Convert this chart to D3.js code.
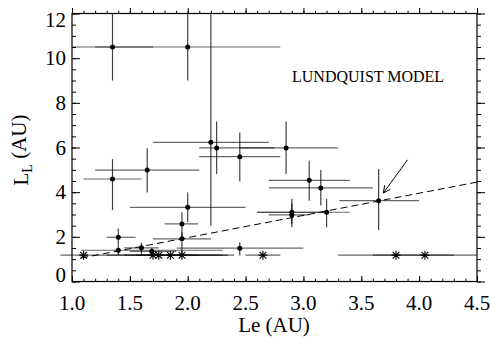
<!DOCTYPE html>
<html>
<head>
<meta charset="utf-8">
<script src="https://cdn.jsdelivr.net/npm/d3@7"></script>
<style>
  body { margin: 0; background: #fff; }
  svg text { font-family: "Liberation Serif", "Times New Roman", serif; fill: #000; }
</style>
</head>
<body>
<script>
// measured points: Le with error range, L_L with error range
var leVal  = [1.35, 2.0, 2.2, 2.25, 2.45, 2.85, 1.35, 1.65, 3.05, 3.15, 2.0, 1.95, 1.4, 1.95, 1.4, 1.6, 1.69, 2.45, 2.9, 2.9, 3.2, 3.65];
var leLo   = [1.0, 1.2, 1.7, 2.1, 2.1, 2.45, 1.1, 1.2, 2.7, 2.7, 1.5, 1.8, 1.3, 1.7, 1.08, 1.45, 1.5, 1.905, 2.6, 2.7, 2.6, 3.31];
var leHi   = [1.7, 2.8, 2.7, 2.75, 2.8, 3.3, 1.6, 2.1, 3.4, 3.6, 2.5, 2.09, 1.55, 2.2, 2.3, 1.75, 1.9, 3.0, 3.2, 3.05, 3.4, 4.0];
var llVal  = [10.5, 10.5, 6.23, 5.98, 5.59, 5.98, 4.59, 4.99, 4.53, 4.19, 3.32, 2.58, 1.98, 1.91, 1.40, 1.51, 1.35, 1.49, 3.10, 2.98, 3.10, 3.62];
var llLo   = [9.0, 9.0, 2.5, 4.81, 4.48, 4.81, 3.2, 3.99, 3.62, 3.4, 2.65, 1.98, 1.6, 1.18, 1.18, 1.18, 1.18, 1.16, 2.43, 2.6, 2.43, 2.31];
var llHi   = [12, 12, 12, 7.16, 6.67, 7.16, 5.48, 5.97, 5.41, 4.99, 3.99, 3.10, 2.37, 2.2, 1.6, 1.74, 1.5, 1.76, 3.70, 3.5, 3.70, 5.04];

// Lundquist model points (asterisks)
var modelLe = [1.1, 1.7, 1.75, 1.85, 1.95, 2.65, 3.8, 4.05];
var modelLo = [0.9, 1.3, 1.45, 1.55, 1.65, 2.5, 3.3, 3.6];
var modelHi = [1.75, 2.4, 2.1, 2.3, 2.35, 2.8, 4.3, 4.5];
var modelLL = [1.18, 1.18, 1.18, 1.18, 1.18, 1.18, 1.18, 1.18];

// dashed line and arrow
var fitLe = [1.08, 4.5];
var fitLL = [1.05, 4.45];
var arrowLe = [3.90, 3.69];
var arrowLL = [5.45, 3.96];

var xTicks = [1.0, 1.5, 2.0, 2.5, 3.0, 3.5, 4.0, 4.5];
var yTicks = [0, 2, 4, 6, 8, 10, 12];

var W = 492, H = 337;
var margin = { top: 13.5, right: 15, bottom: 55.5, left: 72 },
    width = W - margin.left - margin.right,
    height = H - margin.top - margin.bottom;

var svg = d3.select("body").append("svg")
    .attr("width", W)
    .attr("height", H);

var g = svg.append("g")
    .attr("transform", "translate(" + margin.left + "," + margin.top + ")");

var x = d3.scaleLinear().domain([1.0, 4.5]).range([0, width]);
var y = d3.scaleLinear().domain([0, 12]).range([height, 0]);

var xMinor = d3.range(10, 46).map(function (v) { return v / 10; });
var yMinor = d3.range(0, 25).map(function (v) { return v / 2; });

// ticks, all pointing inwards
function tickAxis(axis, scale, vals, len) {
  return axis(scale).tickValues(vals).tickSize(-len).tickFormat("").tickSizeOuter(0);
}
var xMajLen = 5.5, xMinLen = 2.8, yMajLen = 8, yMinLen = 4;

[[d3.axisBottom, height], [d3.axisTop, 0]].forEach(function (a) {
  g.append("g").attr("transform", "translate(0," + a[1] + ")")
    .call(tickAxis(a[0], x, xMinor, a[1] ? xMinLen : -xMinLen));
  g.append("g").attr("transform", "translate(0," + a[1] + ")")
    .call(tickAxis(a[0], x, xTicks, a[1] ? xMajLen : -xMajLen));
});
[[d3.axisLeft, 0], [d3.axisRight, width]].forEach(function (a) {
  g.append("g").attr("transform", "translate(" + a[1] + ",0)")
    .call(tickAxis(a[0], y, yMinor, a[1] ? -yMinLen : yMinLen));
  g.append("g").attr("transform", "translate(" + a[1] + ",0)")
    .call(tickAxis(a[0], y, yTicks, a[1] ? -yMajLen : yMajLen));
});
g.selectAll(".domain").remove();
g.selectAll(".tick line").attr("stroke", "#000").attr("stroke-width", 1);

g.append("rect")
  .attr("width", width).attr("height", height)
  .attr("fill", "none").attr("stroke", "#000").attr("stroke-width", 1.2);

// tick labels
g.selectAll(".xlab").data(xTicks).enter().append("text")
  .attr("x", function (d) { return x(d); })
  .attr("y", height + 28)
  .attr("text-anchor", "middle")
  .style("font-size", "21px")
  .text(function (d) { return d.toFixed(1); });

g.selectAll(".ylab").data(yTicks).enter().append("text")
  .attr("x", -6)
  .attr("y", function (d) { return y(d) + (d === 12 ? 6.5 : d === 0 ? -6.5 : 0); })
  .attr("dy", "0.34em")
  .attr("text-anchor", "end")
  .style("font-size", "21px")
  .text(function (d) { return d; });

// axis titles
svg.append("text")
  .attr("x", 274).attr("y", 332)
  .attr("text-anchor", "middle")
  .style("font-size", "21px")
  .text("Le (AU)");

var yt = svg.append("text")
  .attr("transform", "translate(28,150) rotate(-90)")
  .attr("text-anchor", "middle")
  .style("font-size", "21px");
yt.append("tspan").text("L");
yt.append("tspan").attr("dy", "0.3em").style("font-size", "14px").text("L");
yt.append("tspan").attr("dy", "-0.3em").text(" (AU)");

svg.append("text")
  .attr("x", 292).attr("y", 82)
  .style("font-size", "16px")
  .text("LUNDQUIST MODEL");

// error bars
var barColor = "#000", barAlpha = 0.6;
var pts = leVal.map(function (v, i) {
  return { le: v, lo: leLo[i], hi: leHi[i], ll: llVal[i], llo: llLo[i], lhi: llHi[i] };
});
var mods = modelLe.map(function (v, i) {
  return { le: v, lo: modelLo[i], hi: modelHi[i], ll: modelLL[i] };
});

g.selectAll(".hbar").data(pts.concat(mods)).enter().append("line")
  .attr("x1", function (d) { return x(d.lo); })
  .attr("x2", function (d) { return x(d.hi); })
  .attr("y1", function (d) { return y(d.ll); })
  .attr("y2", function (d) { return y(d.ll); })
  .attr("stroke", barColor).attr("stroke-opacity", barAlpha).attr("stroke-width", 1.2);

g.selectAll(".vbar").data(pts).enter().append("line")
  .attr("x1", function (d) { return x(d.le); })
  .attr("x2", function (d) { return x(d.le); })
  .attr("y1", function (d) { return y(d.llo); })
  .attr("y2", function (d) { return y(d.lhi); })
  .attr("stroke", barColor).attr("stroke-opacity", 0.75).attr("stroke-width", 1.2);

// dashed line
g.append("path")
  .datum(fitLe.map(function (v, i) { return [v, fitLL[i]]; }))
  .attr("d", d3.line().x(function (d) { return x(d[0]); }).y(function (d) { return y(d[1]); }))
  .attr("fill", "none").attr("stroke", "#000").attr("stroke-width", 1)
  .attr("stroke-dasharray", "7,4");

// dots
g.selectAll(".dot").data(pts).enter().append("circle")
  .attr("cx", function (d) { return x(d.le); })
  .attr("cy", function (d) { return y(d.ll); })
  .attr("r", 2.5)
  .attr("fill", "#000");

// asterisks
var star = {
  draw: function (ctx, size) {
    var r = Math.sqrt(size) / 2, t = r * 0.75;
    ctx.moveTo(0, -r); ctx.lineTo(0, r);
    ctx.moveTo(-r, 0); ctx.lineTo(r, 0);
    ctx.moveTo(-t, -t); ctx.lineTo(t, t);
    ctx.moveTo(-t, t); ctx.lineTo(t, -t);
  }
};
g.selectAll(".star").data(mods).enter().append("path")
  .attr("transform", function (d) { return "translate(" + x(d.le) + "," + y(d.ll) + ")"; })
  .attr("d", d3.symbol().type(star).size(81))
  .attr("fill", "none").attr("stroke", "#000").attr("stroke-width", 1.1);

// arrow
var ax1 = x(arrowLe[0]), ay1 = y(arrowLL[0]), ax2 = x(arrowLe[1]), ay2 = y(arrowLL[1]);
g.append("line")
  .attr("x1", ax1).attr("y1", ay1).attr("x2", ax2).attr("y2", ay2)
  .attr("stroke", "#000").attr("stroke-width", 1);
var ang = Math.atan2(ay1 - ay2, ax1 - ax2), head = 8, spread = 0.45;
g.append("path")
  .attr("d", "M" + (ax2 + head * Math.cos(ang - spread)) + "," + (ay2 + head * Math.sin(ang - spread)) +
             "L" + ax2 + "," + ay2 +
             "L" + (ax2 + head * Math.cos(ang + spread)) + "," + (ay2 + head * Math.sin(ang + spread)))
  .attr("fill", "none").attr("stroke", "#000").attr("stroke-width", 1);
</script>
</body>
</html>
